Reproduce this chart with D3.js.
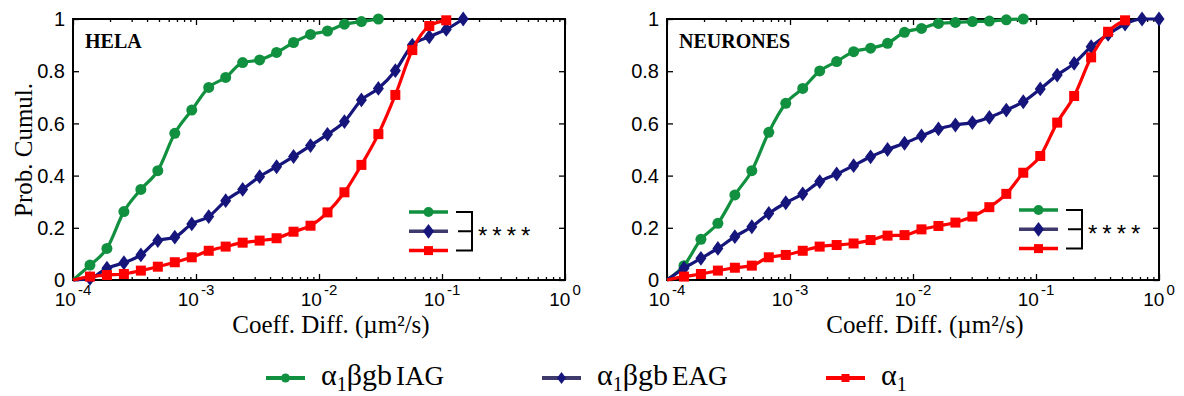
<!DOCTYPE html>
<html><head><meta charset="utf-8">
<script src="https://cdn.jsdelivr.net/npm/d3@7"></script>
<style>body{margin:0;background:#fff} svg{display:block}</style>
</head><body><svg id="c" width="1184" height="396"></svg>
<script>
// Diffusion coefficient grid (µm²/s), log spaced
const xGrid = [1.000e-4, 1.374e-4, 1.887e-4, 2.593e-4, 3.562e-4, 4.894e-4, 6.723e-4, 9.237e-4,
  1.269e-3, 1.743e-3, 2.395e-3, 3.290e-3, 4.520e-3, 6.210e-3, 8.532e-3, 1.172e-2, 1.610e-2,
  2.212e-2, 3.039e-2, 4.175e-2, 5.736e-2, 7.880e-2, 0.1083, 0.1487, 0.2043, 0.2807, 0.3857,
  0.5298, 0.7279, 1.000];

const helaIAG = [0, 0.057, 0.121, 0.262, 0.347, 0.419, 0.562, 0.651, 0.738, 0.776, 0.833, 0.843,
  0.872, 0.910, 0.941, 0.954, 0.980, 0.990, 1.0];
const helaEAG = [0, 0.006, 0.045, 0.066, 0.096, 0.151, 0.164, 0.215, 0.243, 0.304, 0.347, 0.396,
  0.434, 0.473, 0.515, 0.558, 0.607, 0.690, 0.734, 0.802, 0.900, 0.932, 0.960, 1.0];
const helaA1 = [0, 0.013, 0.019, 0.023, 0.036, 0.051, 0.068, 0.087, 0.112, 0.128, 0.143, 0.151,
  0.160, 0.185, 0.208, 0.259, 0.336, 0.441, 0.559, 0.709, 0.881, 0.973, 0.995];

const neuronesIAG = [0, 0.055, 0.156, 0.217, 0.326, 0.419, 0.566, 0.677, 0.734, 0.801, 0.837, 0.875,
  0.888, 0.907, 0.949, 0.964, 0.983, 0.987, 0.990, 0.992, 0.997, 1.0];
const neuronesEAG = [0, 0.045, 0.083, 0.121, 0.166, 0.204, 0.255, 0.296, 0.330, 0.377, 0.406, 0.438,
  0.472, 0.500, 0.524, 0.552, 0.579, 0.594, 0.603, 0.623, 0.651, 0.683, 0.732, 0.785, 0.830, 0.894,
  0.941, 0.981, 1.0, 1.0];
const neuronesA1 = [0, 0.013, 0.023, 0.036, 0.047, 0.055, 0.087, 0.096, 0.112, 0.128, 0.134, 0.140,
  0.153, 0.170, 0.172, 0.194, 0.207, 0.220, 0.243, 0.279, 0.330, 0.411, 0.475, 0.603, 0.705, 0.853,
  0.951, 0.995];

const panelTitles = ["HELA", "NEURONES"];
const yTicks = [0, 0.2, 0.4, 0.6, 0.8, 1];
const yTickLabels = ["0", "0.2", "0.4", "0.6", "0.8", "1"];
const xTicks = [1e-4, 1e-3, 1e-2, 1e-1, 1];
const xTickExponents = ["-4", "-3", "-2", "-1", "0"];
const seriesNames = ["gb IAG", "gb EAG", ""];
const xTitle = "Coeff. Diff. (µm²/s)";
const yTitle = "Prob. Cumul.";
const significance = "****";

const colors = ["#11903f", "#15157c", "#ff0000"];
const legendLineColors = ["#11903f", "#3e3a6c", "#ff0000"];
const shapes = ["circle", "diamond", "square"];

const svg = d3.select("#c");
const SANS = "'Liberation Sans', Arial, Helvetica, sans-serif";
const SERIF = "'Liberation Serif', 'Times New Roman', serif";

const panels = [
  {left: 73, right: 565, title: panelTitles[0], data: [helaIAG, helaEAG, helaA1], inset: {x: 409, y: 212}},
  {left: 667, right: 1159, title: panelTitles[1], data: [neuronesIAG, neuronesEAG, neuronesA1], inset: {x: 1019, y: 210}}
];
const plotTop = 19, plotBottom = 280;

function marker(g, shape, cx, cy, color, s) {
  if (shape === "circle") {
    g.append("circle").attr("cx", cx).attr("cy", cy).attr("r", s).attr("fill", color);
  } else if (shape === "diamond") {
    const h = s * 1.35;
    g.append("path").attr("d", `M${cx},${cy - h}L${cx + s},${cy}L${cx},${cy + h}L${cx - s},${cy}Z`).attr("fill", color);
  } else {
    g.append("rect").attr("x", cx - s).attr("y", cy - s).attr("width", 2 * s).attr("height", 2 * s).attr("fill", color);
  }
}

const minor = [];
for (let e = -4; e < 0; e++) for (let m = 2; m <= 9; m++) minor.push(m * Math.pow(10, e));

panels.forEach((p, pi) => {
  const x = d3.scaleLog().domain([1e-4, 1]).range([p.left, p.right]);
  const y = d3.scaleLinear().domain([0, 1]).range([plotBottom, plotTop]);
  const g = svg.append("g");

  // minor ticks
  g.append("g").attr("transform", `translate(0,${plotBottom})`)
    .call(d3.axisBottom(x).tickValues(minor).tickSize(-3).tickFormat(""))
    .call(a => a.select(".domain").remove());
  g.append("g").attr("transform", `translate(0,${plotTop})`)
    .call(d3.axisTop(x).tickValues(minor).tickSize(-3).tickFormat(""))
    .call(a => a.select(".domain").remove());
  // major ticks
  g.append("g").attr("transform", `translate(0,${plotBottom})`)
    .call(d3.axisBottom(x).tickValues(xTicks).tickSize(-6).tickFormat(""))
    .call(a => a.select(".domain").remove());
  g.append("g").attr("transform", `translate(0,${plotTop})`)
    .call(d3.axisTop(x).tickValues(xTicks).tickSize(-6).tickFormat(""))
    .call(a => a.select(".domain").remove());
  const ya = g.append("g").attr("transform", `translate(${p.left},0)`)
    .call(d3.axisLeft(y).tickValues(yTicks).tickSize(-6).tickPadding(8).tickFormat((d, i) => yTickLabels[i]));
  ya.select(".domain").remove();
  ya.selectAll("text").attr("font-family", SANS).attr("font-size", 20).attr("fill", "#000").attr("dy", "0.33em");
  g.append("g").attr("transform", `translate(${p.right},0)`)
    .call(d3.axisRight(y).tickValues(yTicks).tickSize(-6).tickFormat(""))
    .call(a => a.select(".domain").remove());
  g.selectAll(".tick line").attr("stroke", "#000").attr("stroke-width", 1.3);

  g.append("rect").attr("x", p.left).attr("y", plotTop).attr("width", p.right - p.left).attr("height", plotBottom - plotTop)
    .attr("fill", "none").attr("stroke", "#000").attr("stroke-width", 2);

  // x tick labels 10^n
  xTicks.forEach((t, i) => {
    const tx = g.append("text").attr("x", x(t)).attr("y", 306).attr("text-anchor", "middle")
      .attr("font-family", SANS).attr("font-size", 19).attr("fill", "#000");
    tx.append("tspan").text("10");
    tx.append("tspan").attr("dy", -11).attr("dx", 2).attr("font-size", 15).text(xTickExponents[i]);
  });

  // x title
  g.append("text").attr("x", (p.left + p.right) / 2 + 12).attr("y", 333).attr("text-anchor", "middle")
    .attr("font-family", SERIF).attr("font-size", 25).attr("fill", "#000").text(xTitle);

  // panel title
  g.append("text").attr("x", p.left + 12).attr("y", 48).attr("font-family", SERIF).attr("font-weight", "bold")
    .attr("font-size", 20).attr("fill", "#000").text(p.title);

  // series
  const line = d3.line().x((d, i) => x(xGrid[i])).y(d => y(d)).curve(d3.curveMonotoneX);
  p.data.forEach((arr, si) => {
    g.append("path").datum(arr).attr("d", line).attr("fill", "none")
      .attr("stroke", colors[si]).attr("stroke-width", 3.2).attr("stroke-linejoin", "round");
    const mg = g.append("g");
    arr.forEach((v, i) => {
      if (i === 0) return;
      marker(mg, shapes[si], x(xGrid[i]), y(v), colors[si], shapes[si] === "circle" ? 5.5 : (shapes[si] === "diamond" ? 5.5 : 5));
    });
  });

  // inset legend
  const ins = p.inset;
  [0, 1, 2].forEach(si => {
    const ly = ins.y + si * 19.3;
    g.append("line").attr("x1", ins.x).attr("x2", ins.x + 39).attr("y1", ly).attr("y2", ly)
      .attr("stroke", legendLineColors[si]).attr("stroke-width", 3.5);
    marker(g, shapes[si], ins.x + 19.5, ly, colors[si], shapes[si] === "circle" ? 5 : (shapes[si] === "diamond" ? 5.5 : 4.5));
  });
  const bx = ins.x + 63, by0 = ins.y, by1 = ins.y + 38.6, bym = ins.y + 19.3;
  g.append("path").attr("d", `M${bx - 16},${by0}H${bx}V${by1}H${bx - 16}M${bx - 14},${bym}H${bx}`)
    .attr("fill", "none").attr("stroke", "#000").attr("stroke-width", 2);
  g.append("text").attr("x", bx + 6).attr("y", bym + 13).attr("font-family", SANS).attr("font-size", 24)
    .attr("letter-spacing", 5).attr("fill", "#000").text(significance);
});

// y title (left panel only)
svg.append("text").attr("transform", "translate(32,150) rotate(-90)").attr("text-anchor", "middle")
  .attr("font-family", SERIF).attr("font-size", 25).attr("fill", "#000").text(yTitle);

// bottom legend
const legX = [266, 542, 826];
const legY = 378;
[0, 1, 2].forEach(si => {
  svg.append("line").attr("x1", legX[si]).attr("x2", legX[si] + 39).attr("y1", legY).attr("y2", legY)
    .attr("stroke", legendLineColors[si]).attr("stroke-width", 4);
  marker(svg, shapes[si], legX[si] + 19.5, legY, colors[si], si === 0 ? 4.5 : (si === 1 ? 4.5 : 4));
  const t = svg.append("text").attr("x", legX[si] + 55).attr("y", legY + 7)
    .attr("font-family", SERIF).attr("font-size", 30).attr("fill", "#000");
  t.append("tspan").text("α");
  t.append("tspan").attr("font-size", 20).attr("dy", 6).text("1");
  if (seriesNames[si]) {
    t.append("tspan").attr("dy", -6).text("β" + seriesNames[si].slice(0, 2));
    t.append("tspan").attr("font-size", 27).attr("dx", 4).text(seriesNames[si].slice(3));
  }
});
</script></body></html>
